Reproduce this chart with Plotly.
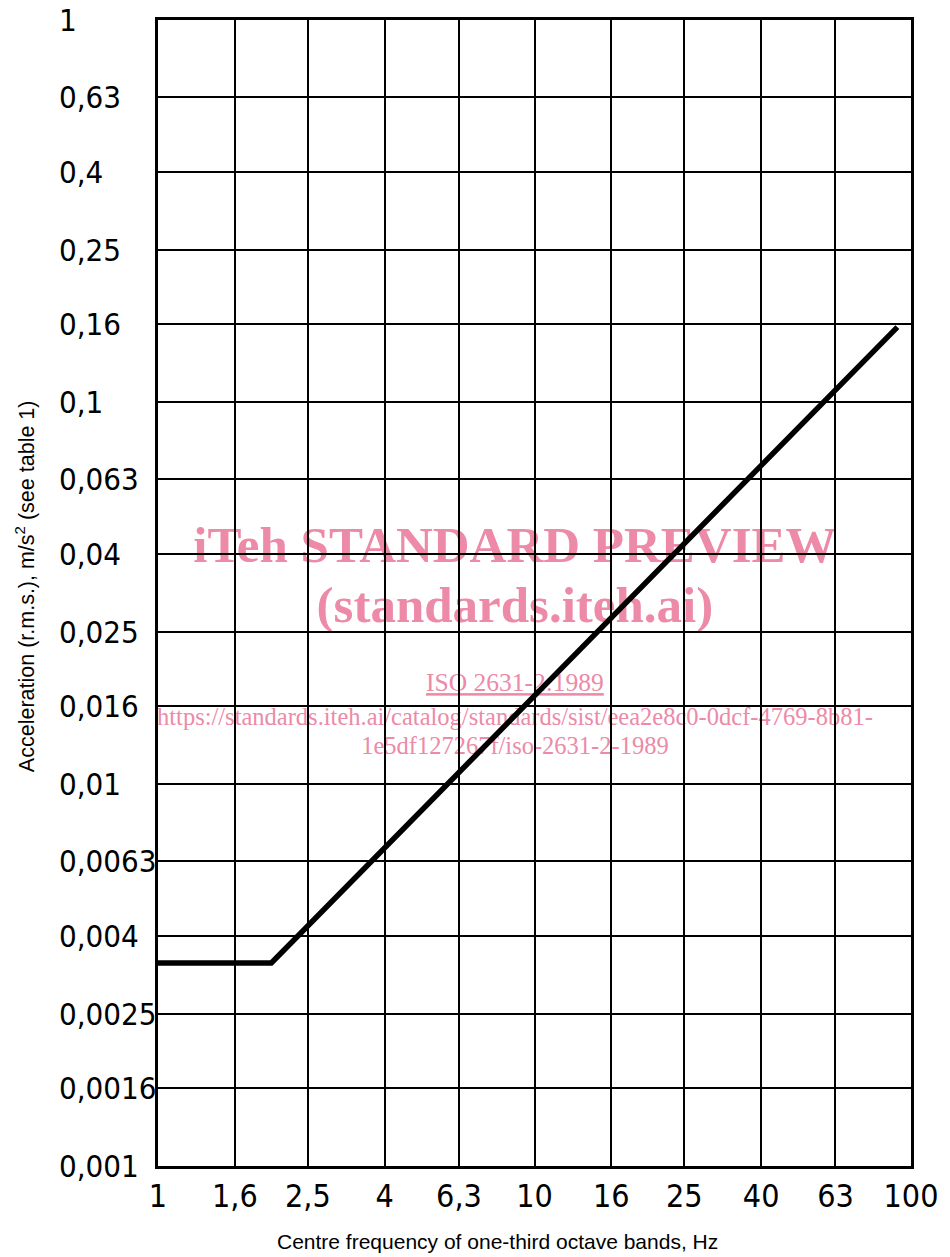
import math
import plotly.graph_objects as go

# One-third octave band centre frequencies used as grid / tick positions (Hz)
freq_ticks = [1, 1.6, 2.5, 4, 6.3, 10, 16, 25, 40, 63, 100]
freq_labels = ["1", "1,6", "2,5", "4", "6,3", "10", "16", "25", "40", "63", "100"]

# Acceleration grid levels (m/s2)
acc_ticks = [0.001, 0.0016, 0.0025, 0.004, 0.0063, 0.01, 0.016, 0.025,
             0.04, 0.063, 0.1, 0.16, 0.25, 0.4, 0.63, 1]
acc_labels = ["0,001", "0,0016", "0,0025", "0,004", "0,0063", "0,01", "0,016",
              "0,025", "0,04", "0,063", "0,1", "0,16", "0,25", "0,4", "0,63", "1"]

# Base curve: constant acceleration up to 2 Hz, then rising with frequency
curve_freq = [1, 2, 92]
curve_acc = [0.0034, 0.0034, 0.157]

DIN_FONT = "Liberation Sans Narrow, DejaVu Sans Condensed, Roboto Condensed, Liberation Sans, sans-serif"
TEXT_FONT = "Liberation Sans, Arial, Helvetica, sans-serif"
SERIF = "Liberation Serif, Times New Roman, serif"
PINK = "#EC8AA8"

fig = go.Figure()
fig.add_trace(go.Scatter(
    x=curve_freq, y=curve_acc, mode="lines",
    line=dict(color="black", width=5.5),
    hoverinfo="skip", showlegend=False,
))

fig.update_xaxes(
    type="log", range=[0, 2],
    tickvals=freq_ticks, ticktext=freq_labels,
    showgrid=True, gridcolor="black", gridwidth=1.8,
    showline=True, linecolor="black", linewidth=2.6, mirror=True,
    ticks="", ticklabelstandoff=0,
    tickfont=dict(family=DIN_FONT, size=32, color="black"),
    zeroline=False,
)
fig.update_yaxes(
    type="log", range=[-3, 0],
    tickvals=acc_ticks, showticklabels=False,
    showgrid=True, gridcolor="black", gridwidth=1.8,
    showline=True, linecolor="black", linewidth=2.6, mirror=True,
    ticks="", zeroline=False,
)

annotations = []
# Left-aligned acceleration labels (annotation positions on a log axis are log10 values)
for v, t in zip(acc_ticks, acc_labels):
    annotations.append(dict(
        x=-0.134, xref="paper", y=math.log10(v), yref="y", text=t, showarrow=False,
        xanchor="left", yanchor="middle",
        font=dict(family=DIN_FONT, size=31, color="black"),
    ))

# Axis titles
annotations.append(dict(
    x=-0.1766, xref="paper", y=0.506, yref="paper",
    text="Acceleration (r.m.s.), m/s<sup>2</sup> (see table 1)",
    showarrow=False, textangle=-90, xanchor="center", yanchor="middle",
    font=dict(family=TEXT_FONT, size=21.5, color="black"),
))
annotations.append(dict(
    x=0.4506, xref="paper", y=-0.066, yref="paper",
    text="Centre frequency of one-third octave bands, Hz",
    showarrow=False, xanchor="center", yanchor="middle",
    font=dict(family=TEXT_FONT, size=21, color="black"),
))

# Preview banner text, placed beneath the grid lines
banner = [
    ("<b>iTeh STANDARD PREVIEW</b>", 0.474, 0.547, 51),
    ("<b>(standards.iteh.ai)</b>", 0.474, 0.495, 51),
    ("<span style='text-decoration:underline'>ISO 2631-2:1989</span>", 0.474, 0.424, 25.5),
    ("https://standards.iteh.ai/catalog/standards/sist/eea2e8c0-0dcf-4769-8b81-", 0.474, 0.394, 24.5),
    ("1e5df127267f/iso-2631-2-1989", 0.474, 0.369, 24.5),
]
shapes = []
for text, cx, cy, size in banner:
    shapes.append(dict(
        type="rect", xref="paper", yref="paper",
        x0=cx - 0.5, x1=cx + 0.5, y0=cy - 0.02, y1=cy + 0.02,
        line=dict(width=0), fillcolor="rgba(0,0,0,0)", layer="below",
        label=dict(text=text, textposition="middle center",
                   font=dict(family=SERIF, size=size, color=PINK)),
    ))

fig.update_layout(
    width=950, height=1257,
    margin=dict(l=158, r=33, t=20, b=91),
    paper_bgcolor="white", plot_bgcolor="rgba(0,0,0,0)",
    annotations=annotations, shapes=shapes,
    showlegend=False,
)

fig.write_html("out.html")
